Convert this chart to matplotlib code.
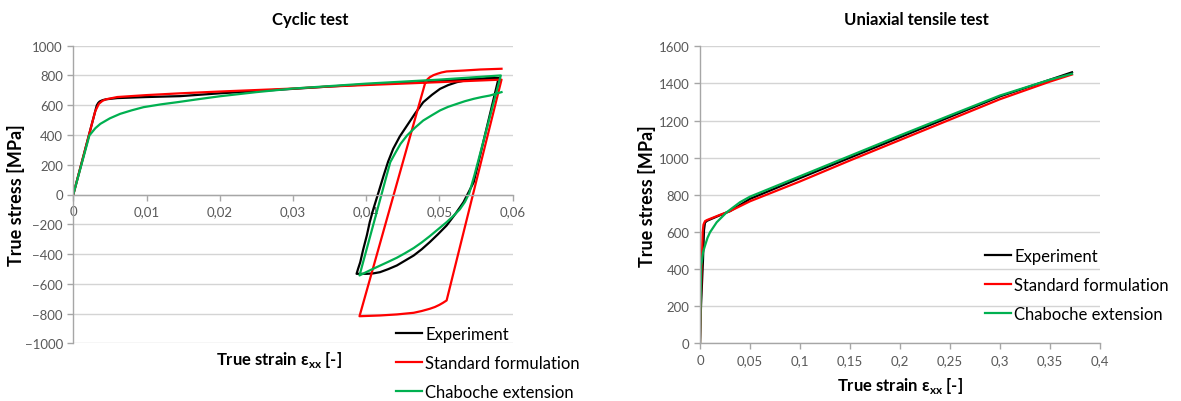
import matplotlib
matplotlib.use("Agg")
import matplotlib.pyplot as plt
from matplotlib.ticker import FuncFormatter, MultipleLocator

plt.rcParams["font.family"] = ["Lato", "DejaVu Sans"]

# ---------------- Cyclic test (strain [-], stress [MPa]) ----------------
cyc_exp_strain = [0, 0.0032, 0.0034, 0.0036, 0.004, 0.0045, 0.006, 0.01, 0.0146, 0.02, 0.03, 0.0351, 0.04,
                  0.0487, 0.0581,
                  0.0547, 0.0540, 0.0533, 0.0522, 0.0510, 0.0498, 0.0487, 0.0476, 0.0465, 0.0453, 0.0442,
                  0.0430, 0.0419, 0.0410, 0.0401, 0.0387,
                  0.0389, 0.0392, 0.0396, 0.0401, 0.0405, 0.0410, 0.0417, 0.0424, 0.0430, 0.0437, 0.0446,
                  0.0456, 0.0467, 0.0478, 0.0490, 0.0501, 0.0512, 0.0524, 0.0535, 0.0547, 0.0564, 0.0581]
cyc_exp_stress = [0, 598, 615, 625, 634, 640, 648, 655, 661, 680, 710, 726, 740,
                  762, 782,
                  83, 15, -52, -130, -208, -268, -320, -368, -410, -445, -477,
                  -502, -522, -530, -533, -533,
                  -500, -455, -370, -275, -185, -96, 15, 128, 220, 307, 390,
                  464, 545, 620, 670, 710, 735, 755, 766, 773, 779, 782]

cyc_std_strain = [0, 0.003, 0.0033, 0.0035, 0.004, 0.0045, 0.006, 0.01, 0.0146, 0.02, 0.03, 0.0351, 0.05, 0.0585,
                  0.0510, 0.0505, 0.0500, 0.0494, 0.0487, 0.0476, 0.0465, 0.0442, 0.0419, 0.0391,
                  0.0481, 0.0484, 0.0487, 0.0492, 0.0497, 0.0503, 0.0510, 0.0533, 0.0556, 0.0585]
cyc_std_stress = [0, 560, 590, 610, 630, 640, 655, 668, 680, 692, 712, 726, 755, 772,
                  -712, -728, -742, -756, -768, -783, -795, -806, -813, -818,
                  755, 775, 788, 802, 811, 820, 827, 833, 840, 845]

cyc_cha_strain = [0, 0.0022, 0.003, 0.0037, 0.005, 0.0064, 0.008, 0.0096, 0.012, 0.0143, 0.017, 0.02, 0.025,
                  0.03, 0.04, 0.05, 0.0584,
                  0.0548, 0.0541, 0.0535, 0.0528, 0.0519, 0.0510, 0.0498, 0.0487, 0.0476, 0.0465, 0.0453,
                  0.0442, 0.0430, 0.0419, 0.0405, 0.0391,
                  0.0433, 0.0440, 0.0447, 0.0456, 0.0467, 0.0478, 0.0490, 0.0501, 0.0512, 0.0524, 0.0535,
                  0.0547, 0.0558, 0.0569, 0.0585]
cyc_cha_stress = [0, 397, 445, 475, 512, 542, 566, 587, 606, 621, 640, 660, 688,
                  712, 745, 772, 800,
                  130, 10, -50, -100, -145, -186, -235, -280, -322, -360, -395,
                  -425, -453, -478, -510, -544,
                  217, 280, 340, 397, 450, 497, 533, 565, 589, 609, 627,
                  643, 655, 665, 688]

# ---------------- Uniaxial tensile test ----------------
ten_exp_strain = [0, 0.001, 0.003, 0.004, 0.005, 0.007, 0.02, 0.03, 0.05, 0.1, 0.15, 0.2, 0.25, 0.3, 0.35, 0.372]
ten_exp_stress = [0, 200, 450, 610, 650, 660, 690, 712, 778, 890, 1000, 1110, 1220, 1330, 1420, 1460]

ten_std_strain = [0, 0.0015, 0.0027, 0.0035, 0.005, 0.007, 0.02, 0.03, 0.05, 0.1, 0.15, 0.2, 0.25, 0.3, 0.35, 0.372]
ten_std_stress = [0, 400, 600, 640, 658, 664, 692, 712, 765, 872, 985, 1095, 1205, 1315, 1410, 1448]

ten_cha_strain = [0, 0.0011, 0.0017, 0.003, 0.005, 0.0075, 0.01, 0.0167, 0.0267, 0.04, 0.05, 0.1, 0.15, 0.2,
                  0.25, 0.3, 0.35, 0.372]
ten_cha_stress = [0, 420, 436, 490, 526, 568, 598, 652, 706, 760, 790, 900, 1010, 1120,
                  1228, 1335, 1420, 1452]

series_labels = ["Experiment", "Standard formulation", "Chaboche extension"]
series_colors = ["#000000", "#FF0000", "#00B050"]

cyclic_xticks = [0, 0.01, 0.02, 0.03, 0.04, 0.05, 0.06]
tensile_xticks = [0, 0.05, 0.1, 0.15, 0.2, 0.25, 0.3, 0.35, 0.4]

W, H = 1181, 402
fig = plt.figure(figsize=(W / 100, H / 100), dpi=100)

grid_c = "#D4D4D4"
axis_c = "#A6A6A6"
tick_c = "#595959"
legend_kw = dict(frameon=False, fontsize=12, handlelength=1.55, handletextpad=0.2, labelspacing=0.78,
                 borderpad=0, borderaxespad=0)


def comma(v, pos=None):
    s = ("%.2f" % v).rstrip("0").rstrip(".")
    return s.replace(".", ",")


def style(ax):
    ax.grid(axis="y", color=grid_c, linewidth=1.0)
    ax.set_axisbelow(True)
    for s in ("top", "right"):
        ax.spines[s].set_visible(False)
    for s in ("left", "bottom"):
        ax.spines[s].set_color(axis_c)
        ax.spines[s].set_linewidth(1.0)
    ax.tick_params(colors=axis_c, labelcolor=tick_c, labelsize=9.5, length=4, width=1.0)
    ax.xaxis.set_major_formatter(FuncFormatter(comma))


def frac(x0, y0, x1, y1):
    return [x0 / W, 1 - y1 / H, (x1 - x0) / W, (y1 - y0) / H]


# Cyclic test
ax1 = fig.add_axes(frac(73.3, 46.7, 512.5, 344.3))
data1 = [(cyc_exp_strain, cyc_exp_stress), (cyc_std_strain, cyc_std_stress), (cyc_cha_strain, cyc_cha_stress)]
for (x, y), c, lab in zip(data1, series_colors, series_labels):
    ax1.plot(x, y, color=c, lw=1.6, label=lab, solid_joinstyle="round")
ax1.set_xlim(0, 0.06)
ax1.set_ylim(-1000, 1000)
ax1.set_xticks(cyclic_xticks)
ax1.yaxis.set_major_locator(MultipleLocator(200))
style(ax1)
ax1.spines["bottom"].set_position(("data", 0))
ax1.set_ylabel("True stress [MPa]", fontsize=13, fontweight="bold", labelpad=0)
fig.text(279 / W, 1 - 360 / H, r"True strain ε$_{\mathregular{xx}}$ [-]", fontsize=12,
         fontweight="bold", ha="center", va="center")
fig.text(310 / W, 1 - 20 / H, "Cyclic test", fontsize=12, fontweight="bold", ha="center", va="center")
ax1.legend(loc="upper left", bbox_to_anchor=(396 / W, 1 - 327 / H), bbox_transform=fig.transFigure,
           **legend_kw)

# Uniaxial tensile test
ax2 = fig.add_axes(frac(700, 47.3, 1100, 344.3))
data2 = [(ten_exp_strain, ten_exp_stress), (ten_std_strain, ten_std_stress), (ten_cha_strain, ten_cha_stress)]
for (x, y), c, lab in zip(data2, series_colors, series_labels):
    ax2.plot(x, y, color=c, lw=1.6, label=lab, solid_joinstyle="round")
ax2.set_xlim(0, 0.4)
ax2.set_ylim(0, 1600)
ax2.set_xticks(tensile_xticks)
ax2.yaxis.set_major_locator(MultipleLocator(200))
style(ax2)
ax2.set_ylabel("True stress [MPa]", fontsize=13, fontweight="bold", labelpad=2)
ax2.set_xlabel(r"True strain ε$_{\mathregular{xx}}$ [-]", fontsize=12, fontweight="bold", labelpad=7)
fig.text(916 / W, 1 - 20 / H, "Uniaxial tensile test", fontsize=12, fontweight="bold", ha="center", va="center")
ax2.legend(loc="upper left", bbox_to_anchor=(985 / W, 1 - 249 / H), bbox_transform=fig.transFigure,
           **legend_kw)

fig.savefig("out.png", dpi=100)
